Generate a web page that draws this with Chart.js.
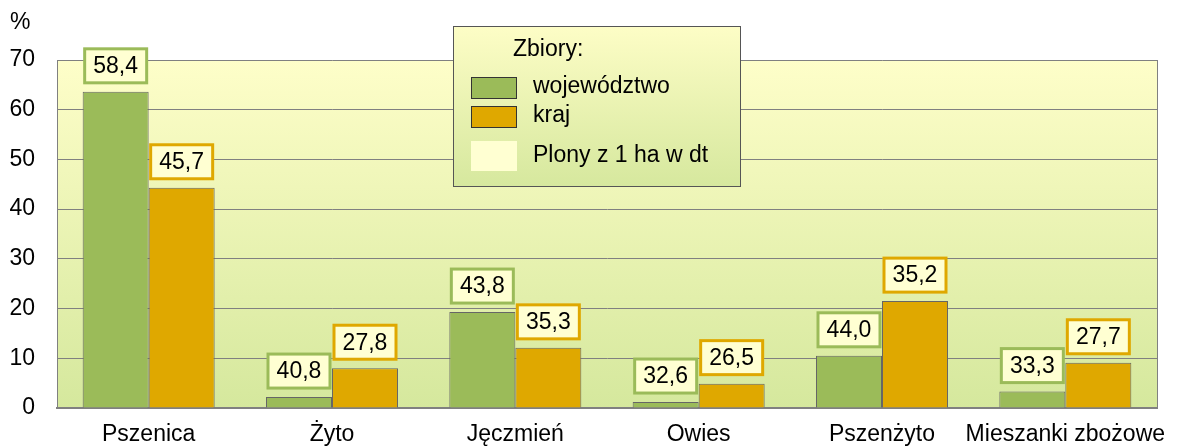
<!DOCTYPE html>
<html><head><meta charset="utf-8">
<script src="https://cdn.jsdelivr.net/npm/chart.js@4"></script>
<style>html,body{margin:0;padding:0;background:#fff}#wrap{width:1177px;height:448px;position:relative}</style>
</head><body><div id="wrap"><canvas id="c" width="1177" height="448"></canvas></div>
<script>
const categories = ['Pszenica','Żyto','Jęczmień','Owies','Pszenżyto','Mieszanki zbożowe'];
const wojewodztwo = [63.6, 2.2, 19.3, 1.2, 10.5, 3.3];
const kraj = [44.3, 8.0, 12.1, 4.9, 21.5, 9.1];
const plonyWoj = ['58,4','40,8','43,8','32,6','44,0','33,3'];
const plonyKraj = ['45,7','27,8','35,3','26,5','35,2','27,7'];
const yTicks = [0,10,20,30,40,50,60,70];

const FONT = '"Liberation Sans", Arial, sans-serif';
const FS = 23;
const GREEN = '#9bbb59', ORANGE = '#dfa800', BOXFILL = '#ffffd2';

const bgPlugin = {
  id: 'bg',
  beforeDraw(chart) {
    const {ctx, chartArea: a} = chart;
    const g = ctx.createLinearGradient(0, a.top, 0, a.bottom);
    g.addColorStop(0, '#fefec9');
    g.addColorStop(1, '#d5e89d');
    ctx.save(); ctx.fillStyle = g; ctx.fillRect(a.left, a.top, a.right - a.left, a.bottom - a.top);
    ctx.strokeStyle = '#808080'; ctx.lineWidth = 1;
    ctx.beginPath(); ctx.moveTo(a.right + 0.5, a.top); ctx.lineTo(a.right + 0.5, a.bottom); ctx.stroke();
    ctx.font = FS + 'px ' + FONT; ctx.fillStyle = '#000'; ctx.textAlign = 'left'; ctx.textBaseline = 'alphabetic';
    ctx.fillText('%', 10, 29);
    ctx.restore();
  }
};

const labelPlugin = {
  id: 'lbls',
  afterDatasetsDraw(chart) {
    const ctx = chart.ctx;
    const sets = [[plonyWoj, GREEN], [plonyKraj, ORANGE]];
    ctx.save();
    ctx.font = FS + 'px ' + FONT;
    ctx.textAlign = 'center'; ctx.textBaseline = 'middle';
    sets.forEach(([labels, col], di) => {
      chart.getDatasetMeta(di).data.forEach((bar, i) => {
        const w = 62, h = 34;
        const x = bar.x - w / 2, y = bar.y - 9 - h;
        ctx.fillStyle = BOXFILL; ctx.fillRect(x, y, w, h);
        ctx.strokeStyle = col; ctx.lineWidth = 3; ctx.strokeRect(x, y, w, h);
        ctx.fillStyle = '#000'; ctx.fillText(labels[i], bar.x, y + h / 2 + 1);
      });
    });
    ctx.restore();
  }
};

const legendPlugin = {
  id: 'leg',
  afterDraw(chart) {
    const ctx = chart.ctx;
    const x = 453, y = 26, w = 287, h = 160;
    ctx.save();
    const g = ctx.createLinearGradient(0, y, 0, y + h);
    g.addColorStop(0, '#fdfdc6'); g.addColorStop(1, '#d6e89e');
    ctx.fillStyle = g; ctx.fillRect(x, y, w, h);
    ctx.strokeStyle = '#555'; ctx.lineWidth = 1; ctx.strokeRect(x + 0.5, y + 0.5, w, h);
    ctx.font = FS + 'px ' + FONT; ctx.fillStyle = '#000'; ctx.textBaseline = 'middle'; ctx.textAlign = 'left';
    ctx.fillText('Zbiory:', 513, 50);
    const items = chart.data.datasets.map(d => [d.label, d.backgroundColor]);
    items.forEach(([lab, col], i) => {
      const sy = 77 + i * 29;
      ctx.fillStyle = col; ctx.fillRect(471, sy, 46, 22);
      ctx.strokeStyle = '#333'; ctx.strokeRect(471.5, sy + 0.5, 45, 21);
      ctx.fillStyle = '#000'; ctx.fillText(lab, 533, sy + 10);
    });
    ctx.fillStyle = '#ffffd2'; ctx.fillRect(471, 141, 46, 30);
    ctx.fillStyle = '#000'; ctx.fillText('Plony z 1 ha w dt', 533, 156);
    ctx.restore();
  }
};

new Chart(document.getElementById('c'), {
  type: 'bar',
  data: {
    labels: categories,
    datasets: [
      {label: 'województwo', data: wojewodztwo, backgroundColor: GREEN, borderColor: '#666', borderWidth: 1, borderSkipped: 'bottom'},
      {label: 'kraj', data: kraj, backgroundColor: ORANGE, borderColor: '#666', borderWidth: 1, borderSkipped: 'bottom'}
    ]
  },
  plugins: [bgPlugin, labelPlugin, legendPlugin],
  options: {
    responsive: false, animation: false,
    layout: {padding: {top: 60, right: 20, left: 0, bottom: 0}},
    datasets: {bar: {categoryPercentage: 0.72, barPercentage: 1.0}},
    plugins: {legend: {display: false}, tooltip: {enabled: false}},
    scales: {
      x: {
        grid: {display: false},
        border: {color: '#808080', width: 2},
        ticks: {color: '#000', font: {size: FS, family: FONT}, padding: 5, maxRotation: 0, autoSkip: false},
        afterFit(axis) { axis.height = 40; }
      },
      y: {
        min: 0, max: 70,
        afterBuildTicks(axis) { axis.ticks = yTicks.map(v => ({value: v})); },
        grid: {color: '#808080', lineWidth: 1, drawTicks: false},
        border: {color: '#808080', width: 1},
        ticks: {color: '#000', font: {size: FS, family: FONT}, padding: 22},
        afterFit(axis) { axis.width = 57; }
      }
    }
  }
});
</script></body></html>
